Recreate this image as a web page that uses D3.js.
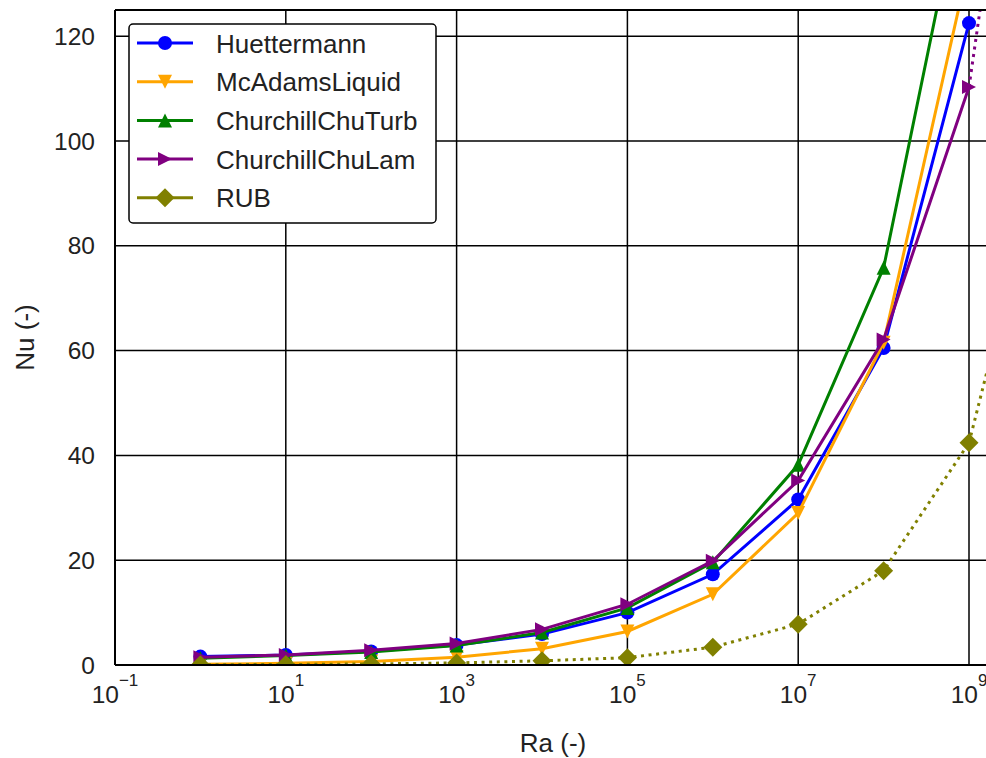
<!DOCTYPE html>
<html>
<head>
<meta charset="utf-8">
<script src="https://cdn.jsdelivr.net/npm/d3@7"></script>
<style>
  body { margin: 0; background: #fff; }
  svg { display: block; font-family: "Liberation Sans", Arial, sans-serif; }
</style>
</head>
<body>
<div id="chart"></div>
<script>
// Ra values (x) and Nu values per correlation
const raValues = [1e0, 1e1, 1e2, 1e3, 1e4, 1e5, 1e6, 1e7, 1e8, 1e9];
const huettermann = [1.6, 1.9, 2.6, 3.8, 5.9, 10.0, 17.3, 31.6, 60.5, 122.5];
const mcAdamsLiquid = [0.15, 0.32, 0.68, 1.5, 3.1, 6.4, 13.5, 29.0, 61.5, 134];
const churchillChuTurb = [1.3, 1.8, 2.5, 3.7, 6.2, 10.9, 19.6, 38.2, 75.8, 155];
const churchillChuLam = [1.5, 1.9, 2.8, 4.1, 6.8, 11.6, 19.9, 35.2, 62.1, 110.3];
const rub = [0.05, 0.1, 0.2, 0.4, 0.8, 1.4, 3.4, 7.8, 18.0, 42.4];

// dotted continuation past 1e9
const extRa = [1e9, 1e10];
const churchillChuLamExt = [110.3, 224];
const rubExt = [42.4, 107];

const xTicks = [1e-1, 1e1, 1e3, 1e5, 1e7, 1e9];
const xTickExp = ['\u22121', '1', '3', '5', '7', '9'];
const yTicks = [0, 20, 40, 60, 80, 100, 120];

const seriesNames = ['Huettermann', 'McAdamsLiquid', 'ChurchillChuTurb', 'ChurchillChuLam', 'RUB'];
const seriesValues = [huettermann, mcAdamsLiquid, churchillChuTurb, churchillChuLam, rub];
const seriesColors = ['#0000ff', '#ffa500', '#008000', '#800080', '#808000'];
const seriesMarkers = ['circle', 'tridown', 'triup', 'triright', 'diamond'];

const width = 986, height = 758;
const pLeft = 115, pTop = 10, pBottom = 665, pRight = 991;

const svg = d3.select('#chart').append('svg')
    .attr('width', width)
    .attr('height', height);

const x = d3.scaleLog().domain([1e-1, 1e9]).range([pLeft, 969]);
const y = d3.scaleLinear().domain([0, 125]).range([pBottom, pTop]);

svg.append('clipPath').attr('id', 'plotclip')
  .append('rect')
    .attr('x', pLeft).attr('y', pTop)
    .attr('width', pRight - pLeft).attr('height', pBottom - pTop);

// grid
const grid = svg.append('g');
xTicks.forEach(t => {
    grid.append('line')
        .attr('x1', x(t)).attr('x2', x(t))
        .attr('y1', pTop).attr('y2', pBottom)
        .attr('stroke', '#000').attr('stroke-width', 1.5);
});
yTicks.forEach(t => {
    grid.append('line')
        .attr('x1', pLeft).attr('x2', pRight)
        .attr('y1', y(t)).attr('y2', y(t))
        .attr('stroke', '#000').attr('stroke-width', 1.5);
});

function markerPath(type, s) {
    if (type === 'circle') return d3.symbol(d3.symbolCircle, Math.PI * s * s)();
    if (type === 'triup') return `M0,${-s}L${s},${s}L${-s},${s}Z`;
    if (type === 'tridown') return `M0,${s}L${s},${-s}L${-s},${-s}Z`;
    if (type === 'triright') return `M${s},0L${-s},${s}L${-s},${-s}Z`;
    if (type === 'diamond') return `M0,${-s}L${s},0L0,${s}L${-s},0Z`;
}
const markerSize = { circle: 7, tridown: 7, triup: 7, triright: 7, diamond: 9.5 };

const line = d3.line()
    .x(d => x(d[0]))
    .y(d => y(d[1]));

const plot = svg.append('g').attr('clip-path', 'url(#plotclip)');

seriesNames.forEach((name, i) => {
    const pts = raValues.map((r, j) => [r, seriesValues[i][j]]);
    const g = plot.append('g');
    g.append('path')
        .datum(pts)
        .attr('d', line)
        .attr('fill', 'none')
        .attr('stroke', seriesColors[i])
        .attr('stroke-width', 3)
        .attr('stroke-dasharray', name === 'RUB' ? '3,4.6' : null);
    if (name === 'ChurchillChuLam' || name === 'RUB') {
        const ext = name === 'RUB' ? rubExt : churchillChuLamExt;
        g.append('path')
            .datum(extRa.map((r, j) => [r, ext[j]]))
            .attr('d', line)
            .attr('fill', 'none')
            .attr('stroke', seriesColors[i])
            .attr('stroke-width', 3)
            .attr('stroke-dasharray', '3,4.6');
    }
    g.selectAll('path.mk')
        .data(pts)
        .enter().append('path')
        .attr('class', 'mk')
        .attr('d', markerPath(seriesMarkers[i], markerSize[seriesMarkers[i]]))
        .attr('transform', d => 'translate(' + x(d[0]) + ',' + y(d[1]) + ')')
        .attr('fill', seriesColors[i]);
});

// spines
svg.append('line').attr('x1', pLeft).attr('x2', pLeft).attr('y1', pTop).attr('y2', pBottom)
    .attr('stroke', '#000').attr('stroke-width', 2);
svg.append('line').attr('x1', pLeft).attr('x2', pRight).attr('y1', pBottom).attr('y2', pBottom)
    .attr('stroke', '#000').attr('stroke-width', 2);
svg.append('line').attr('x1', pLeft).attr('x2', pRight).attr('y1', pTop).attr('y2', pTop)
    .attr('stroke', '#000').attr('stroke-width', 2);

// y tick labels
yTicks.forEach(t => {
    svg.append('text')
        .attr('x', 95).attr('y', y(t) + 8.5)
        .attr('text-anchor', 'end')
        .attr('font-size', 24.5)
        .attr('fill', '#222')
        .text(t);
});

// x tick labels 10^n
xTicks.forEach((t, i) => {
    const txt = svg.append('text')
        .attr('x', x(t)).attr('y', 703)
        .attr('text-anchor', 'middle')
        .attr('fill', '#222');
    txt.append('tspan').attr('font-size', 24.5).text('10');
    txt.append('tspan').attr('font-size', 17).attr('dy', -17).text(xTickExp[i]);
});

// axis labels
svg.append('text')
    .attr('x', (pLeft + pRight) / 2).attr('y', 752)
    .attr('text-anchor', 'middle')
    .attr('font-size', 26)
    .attr('fill', '#222')
    .text('Ra (-)');
svg.append('text')
    .attr('transform', 'translate(34,' + ((pTop + pBottom) / 2) + ') rotate(-90)')
    .attr('text-anchor', 'middle')
    .attr('font-size', 26)
    .attr('fill', '#222')
    .text('Nu (-)');

// legend
const legend = svg.append('g');
legend.append('rect')
    .attr('x', 129).attr('y', 24)
    .attr('width', 307).attr('height', 199)
    .attr('rx', 4)
    .attr('fill', '#fff')
    .attr('stroke', '#000')
    .attr('stroke-width', 1.5);
seriesNames.forEach((name, i) => {
    const cy = 43 + i * 38.7;
    legend.append('line')
        .attr('x1', 137).attr('x2', 193)
        .attr('y1', cy).attr('y2', cy)
        .attr('stroke', seriesColors[i]).attr('stroke-width', 3);
    legend.append('path')
        .attr('d', markerPath(seriesMarkers[i], markerSize[seriesMarkers[i]]))
        .attr('transform', 'translate(165,' + cy + ')')
        .attr('fill', seriesColors[i]);
    legend.append('text')
        .attr('x', 216).attr('y', cy + 9.5)
        .attr('font-size', 26)
        .attr('fill', '#222')
        .text(name);
});
</script>
</body>
</html>
